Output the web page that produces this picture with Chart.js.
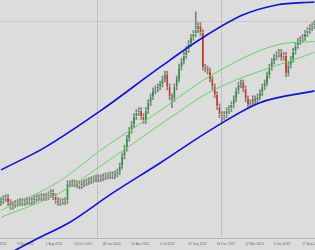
<!DOCTYPE html>
<html>
<head>
<meta charset="utf-8">
<script src="https://cdn.jsdelivr.net/npm/chart.js@4.4.0/dist/chart.umd.min.js"></script>
<style>
  html, body { margin: 0; padding: 0; background: #dcdcdc; }
</style>
</head>
<body>
<canvas id="chart" width="315" height="250"></canvas>
<script>
// weekly candles, one entry per bar (chart units)
const opens = [45,47,49,50,45,41,43,44,45,46, 45,46,47,46,47,49,50,50,51,50, 51,53,55,51,47,45,46,46,47,64,
  64,65,64,63,62,64,65,66,67,68, 69,70,69,70,71,72,72,73,72,74, 76,82,92,100,110,118,124,132,136,138,
  132,128,138,146,152,158,160,162,165,170, 175,162,152,150,162,170,182,188,194,200, 206,212,216,220,224,217,182,180,178,170,
  162,154,142,134,132,134,138,140,144,150, 158,164,166,160,150,144,146,150,148,152, 156,162,166,174,182,188,192,195,197,192,
  194,176,184,190,198,204,208,210,212,216, 219,222,224];
const highs = [50,52,53,53,48,46,47,48,49,49, 49,50,50,50,52,53,53,54,54,54, 56,58,58,54,50,49,49,50,67,67,
  68,68,67,66,67,68,69,70,71,72, 73,73,73,74,75,75,76,76,77,79, 85,95,103,113,121,127,135,139,141,141,
  135,141,149,155,161,163,165,168,173,178, 178,165,155,165,173,185,191,197,203,209, 215,219,238,227,227,220,185,183,181,173,
  165,157,145,137,137,141,143,147,153,161, 167,169,169,163,153,149,153,153,155,159, 165,169,177,185,191,195,198,200,200,197,
  197,187,193,201,207,211,213,215,219,222, 225,227,229];
const lows = [42,44,46,42,38,38,40,41,42,42, 42,43,43,43,44,46,47,47,47,47, 48,50,48,44,42,42,43,43,44,61,
  61,61,60,59,59,61,62,63,64,65, 66,66,66,67,68,69,69,69,69,71, 73,79,89,97,107,115,121,129,133,129,
  125,125,135,143,149,155,157,159,162,167, 159,149,141,147,159,167,179,185,191,197, 203,209,213,217,214,179,177,175,167,159,
  151,139,131,126,129,131,135,137,141,147, 155,161,157,147,141,141,143,145,145,149, 153,159,163,171,179,185,189,192,189,189,
  172,173,181,187,195,201,205,207,209,213, 216,219,221];
const closes = [47,49,50,45,41,43,44,45,46,45, 46,47,46,47,49,50,50,51,50,51, 53,55,51,47,45,46,46,47,64,64,
  65,64,63,62,64,65,66,67,68,69, 70,69,70,71,72,72,73,72,74,76, 82,92,100,110,118,124,132,136,138,132,
  128,138,146,152,158,160,162,165,170,175, 162,152,150,162,170,182,188,194,200,206, 212,216,220,224,217,182,180,178,170,162,
  154,142,134,132,134,138,140,144,150,158, 164,166,160,150,144,146,150,148,152,156, 162,166,174,182,188,192,195,197,192,194,
  176,184,190,198,204,208,210,212,216,219, 222,224,226];

// channel lines, read at a few bar positions
const upperBlueBars = [0, 18, 42, 67, 85, 102, 116, 132];
const upperBlue = [78, 100, 138, 182, 212, 235, 245, 248];
const lowerBlueBars = [0, 15, 29, 46, 67, 88, 109, 132];
const lowerBlue = [-11, 8, 25, 53, 85, 118, 146, 158];
const upperGreenBars = [0, 25, 42, 67, 88, 117, 132];
const upperGreen = [37, 67, 98, 138, 173, 205, 208];
const lowerGreenBars = [0, 25, 42, 72, 88, 132];
const lowerGreen = [30, 55, 82, 132, 157, 197];

// time axis
const tickBars = [-6, 6, 18, 30, 42, 54, 66, 78, 90, 102, 114, 126];
const tickLabels = ['10 Jan 2021', '9 Mar 2021', '1 Aug 2021', '24 Oct 2021', '08 Jan 2022', '10 Apr 2022',
  '3 Jul 2022', '25 Sep 2022', '18 Dec 2022', '12 Mar 2023', '4 Jun 2023', '27 Aug 2023'];
const yearBars = [40.5, 93];
const priceGrid = [228];

const UP = '#2f8f42', DOWN = '#c8362e';

const pts = (xs, ys) => xs.map((x, i) => ({x: x, y: ys[i]}));
const bodies = opens.map((o, i) => ({x: i, y: [o, closes[i]]}));
const wicks = lows.map((l, i) => ({x: i, y: [l, highs[i]]}));
const bodyColors = opens.map((o, i) => closes[i] >= o ? UP : DOWN);

const bg = {
  id: 'bg',
  beforeDraw(c) {
    const g = c.ctx;
    g.save();
    g.fillStyle = '#dcdcdc';
    g.fillRect(0, 0, c.width, c.height);
    g.restore();
  }
};

const lineSet = (label, data, color, width) => ({
  type: 'line', label: label, data: data, borderColor: color, borderWidth: width,
  pointRadius: 0, fill: false, cubicInterpolationMode: 'monotone', clip: false, order: 0
});

new Chart(document.getElementById('chart'), {
  data: {
    datasets: [
      lineSet('upper channel', pts(upperBlueBars, upperBlue), '#0d12d8', 1.6),
      lineSet('lower channel', pts(lowerBlueBars, lowerBlue), '#0d12d8', 1.6),
      lineSet('upper inner', pts(upperGreenBars, upperGreen), '#5fd85f', 1),
      lineSet('lower inner', pts(lowerGreenBars, lowerGreen), '#5fd85f', 1),
      {type: 'bar', label: 'body', data: bodies, backgroundColor: bodyColors, borderColor: '#efefef',
        borderWidth: 0.4, borderSkipped: false, barThickness: 2, minBarLength: 1, grouped: false, order: 1},
      {type: 'bar', label: 'wick', data: wicks, backgroundColor: '#808080', barThickness: 1,
        grouped: false, order: 2}
    ]
  },
  options: {
    responsive: false,
    animation: false,
    layout: {padding: 0},
    plugins: {legend: {display: false}, tooltip: {enabled: false}},
    scales: {
      x: {
        type: 'linear', min: -0.4, max: 132.2, offset: false,
        afterBuildTicks: s => {
          s.ticks = tickBars.concat(yearBars).map(v => ({value: v}));
        },
        afterFit: s => { s.paddingLeft = 0; s.paddingRight = 0; },
        ticks: {
          autoSkip: false, maxRotation: 0, align: 'start', labelOffset: 2, padding: 4,
          color: '#6e6e6e', font: {family: 'Liberation Sans', size: 3.3, lineHeight: 1.2},
          callback: v => {
            const k = tickBars.indexOf(v);
            return k >= 0 ? tickLabels[k] : '';
          }
        },
        grid: {
          offset: false, drawTicks: false,
          color: c => yearBars.includes(c.tick && c.tick.value) ? '#a8a8a8' : 'rgba(0,0,0,0)'
        },
        border: {display: true, color: '#b8b8b8', dash: [1, 1]}
      },
      y: {
        min: 9, max: 250,
        afterBuildTicks: s => { s.ticks = priceGrid.map(v => ({value: v})); },
        ticks: {display: false},
        grid: {drawTicks: false, color: '#cacaca'},
        border: {display: false}
      }
    }
  },
  plugins: [bg]
});
</script>
</body>
</html>
